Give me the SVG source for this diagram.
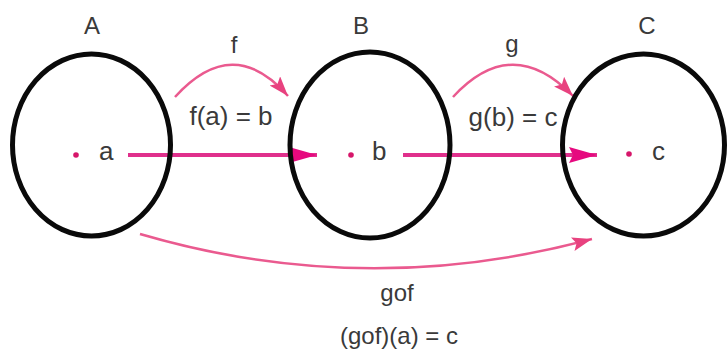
<svg xmlns="http://www.w3.org/2000/svg" width="728" height="356" viewBox="0 0 728 356">
<defs>
<style>
.set{fill:none;stroke:#0a0a0a;stroke-width:5}
.lbl{font-family:"Liberation Sans",Arial,sans-serif;fill:#3a3a3a;font-size:24px}
.el{font-family:"Liberation Sans",Arial,sans-serif;fill:#3a3a3a;font-size:26px}
.dot{fill:#d6166a}
.str{fill:none;stroke:#e0308c;stroke-width:4}
.cur{fill:none;stroke:#ea5a8f;stroke-width:2.5}
</style>
<marker id="hs" markerUnits="userSpaceOnUse" markerWidth="30" markerHeight="20" refX="28" refY="8" orient="auto">
<path d="M0,0 L28,8 L0,16 L4,8 Z" fill="#e6097f"/>
</marker>
<marker id="hc" markerUnits="userSpaceOnUse" markerWidth="22" markerHeight="16" refX="20" refY="7" orient="auto">
<path d="M0,0 L20,7 L0,14 L4,7 Z" fill="#e8427f"/>
</marker>
</defs>
<rect width="728" height="356" fill="#ffffff"/>
<g id="connectors">
<line class="str" x1="128" y1="155" x2="317" y2="155" marker-end="url(#hs)"/>
<line class="str" x1="403" y1="155" x2="597" y2="155" marker-end="url(#hs)"/>
<path class="cur" d="M175,97 Q233,33 288,96" marker-end="url(#hc)"/>
<path class="cur" d="M453,97 Q512,33 573,96" marker-end="url(#hc)"/>
<path class="cur" d="M140,234 Q365,300 592,239" marker-end="url(#hc)"/>
<text class="lbl" x="234" y="53" text-anchor="middle">f</text>
<text class="el" x="231" y="125" text-anchor="middle">f(a) = b</text>
<text class="lbl" x="512" y="52" text-anchor="middle">g</text>
<text class="el" x="513" y="126" text-anchor="middle">g(b) = c</text>
<text class="lbl" x="397" y="301" text-anchor="middle">gof</text>
<text class="lbl" x="399" y="344" text-anchor="middle">(gof)(a) = c</text>
</g>
<g id="A">
<ellipse class="set" cx="91.5" cy="145" rx="79" ry="91"/>
<text class="lbl" x="92" y="34" text-anchor="middle">A</text>
<circle class="dot" cx="76" cy="155" r="2.8"/>
<text class="el" x="99" y="160">a</text>
</g>
<g id="B">
<ellipse class="set" cx="370" cy="145" rx="80" ry="93"/>
<text class="lbl" x="361" y="34" text-anchor="middle">B</text>
<circle class="dot" cx="351" cy="155" r="2.8"/>
<text class="el" x="372" y="160">b</text>
</g>
<g id="C">
<ellipse class="set" cx="643.5" cy="145" rx="81" ry="91"/>
<text class="lbl" x="647" y="34" text-anchor="middle">C</text>
<circle class="dot" cx="629" cy="154" r="2.8"/>
<text class="el" x="652" y="160">c</text>
</g>
</svg>
